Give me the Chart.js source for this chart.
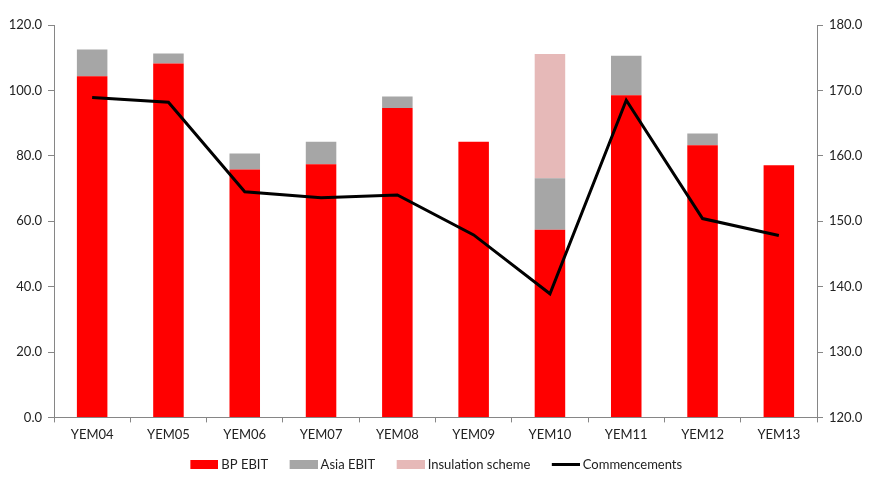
<!DOCTYPE html>
<html>
<head>
<meta charset="utf-8">
<script src="https://cdn.jsdelivr.net/npm/chart.js@4"></script>
<style>
  html, body { margin: 0; padding: 0; background: #fff; }
  #wrap { width: 873px; height: 484px; }
</style>
</head>
<body>
<div id="wrap"><canvas id="ebitChart" width="873" height="484"></canvas></div>
<script>
const years = ['YEM04', 'YEM05', 'YEM06', 'YEM07', 'YEM08', 'YEM09', 'YEM10', 'YEM11', 'YEM12', 'YEM13'];
const bpEbit = [104.3, 108.2, 75.8, 77.4, 94.6, 84.3, 57.4, 98.5, 83.2, 77.1];
const asiaEbit = [8.2, 3.1, 4.9, 6.9, 3.5, 0, 15.7, 12.1, 3.6, 0];
const insulation = [0, 0, 0, 0, 0, 0, 38.0, 0, 0, 0];
const commencements = [168.9, 168.2, 154.5, 153.6, 154.0, 147.9, 138.9, 168.5, 150.4, 147.8];

const axisGrey = '#868686';
const textColor = '#222222';
const fontFamily = 'Lato, "Open Sans", sans-serif';

// legend swatch: 28px mark at the right end of a wider transparent canvas,
// the empty left part gives the extra gap between legend items
const SW = 36;
function swatch(color, h) {
    const c = document.createElement('canvas');
    c.width = SW + 7;
    c.height = 9;
    const g = c.getContext('2d');
    g.fillStyle = color;
    g.fillRect(c.width - 28, (9 - h) / 2, 28, h);
    return c;
}

// the blank in front of the first swatch pushes the row right, nudge it back
const legendNudge = {
    id: 'legendNudge',
    afterLayout(chart) {
        chart.legend.left -= 6;
        chart.legend.right -= 6;
    }
};

const ctx = document.getElementById('ebitChart').getContext('2d');

const chart = new Chart(ctx, {
    data: {
        labels: years,
        datasets: [
            {
                type: 'line',
                label: 'Commencements',
                data: commencements,
                yAxisID: 'y1',
                borderColor: '#000000',
                backgroundColor: '#000000',
                borderWidth: 3,
                pointRadius: 0,
                tension: 0,
                order: 0,
                pointStyle: swatch('#000000', 3)
            },
            {
                type: 'bar',
                label: 'BP EBIT',
                data: bpEbit,
                backgroundColor: '#ff0000',
                order: 1,
                pointStyle: swatch('#ff0000', 9)
            },
            {
                type: 'bar',
                label: 'Asia EBIT',
                data: asiaEbit,
                backgroundColor: '#a6a6a6',
                order: 1,
                pointStyle: swatch('#a6a6a6', 9)
            },
            {
                type: 'bar',
                label: 'Insulation scheme',
                data: insulation,
                backgroundColor: '#e6b9b8',
                order: 1,
                pointStyle: swatch('#e6b9b8', 9)
            }
        ]
    },
    plugins: [legendNudge],
    options: {
        responsive: false,
        animation: false,
        datasets: {
            bar: { categoryPercentage: 0.4, barPercentage: 1 }
        },
        layout: { padding: { top: 25, bottom: 3 } },
        plugins: {
            tooltip: { enabled: false },
            legend: {
                position: 'bottom',
                labels: {
                    usePointStyle: true,
                    pointStyleWidth: SW,
                    padding: 10,
                    color: textColor,
                    font: { family: fontFamily, size: 13 },
                    sort: (a, b) => (a.datasetIndex === 0) - (b.datasetIndex === 0) || a.datasetIndex - b.datasetIndex
                }
            }
        },
        scales: {
            x: {
                stacked: true,
                grid: { display: true, drawOnChartArea: false, offset: true, tickLength: 5, color: axisGrey },
                border: { color: axisGrey },
                ticks: { color: textColor, font: { family: fontFamily, size: 13 }, padding: 5 }
            },
            y: {
                stacked: true,
                min: 0,
                max: 120,
                afterFit: s => { s.width = 54; },
                grid: { drawOnChartArea: false, tickLength: 6, color: axisGrey },
                border: { color: axisGrey },
                ticks: {
                    stepSize: 20,
                    color: textColor,
                    padding: 6,
                    font: { family: fontFamily, size: 13 },
                    callback: v => v.toFixed(1)
                }
            },
            y1: {
                position: 'right',
                min: 120,
                max: 180,
                afterFit: s => { s.width = 56; },
                grid: { drawOnChartArea: false, tickLength: 6, color: axisGrey },
                border: { color: axisGrey },
                ticks: {
                    stepSize: 10,
                    color: textColor,
                    padding: 6,
                    font: { family: fontFamily, size: 13 },
                    callback: v => v.toFixed(1)
                }
            }
        }
    }
});
</script>
</body>
</html>
